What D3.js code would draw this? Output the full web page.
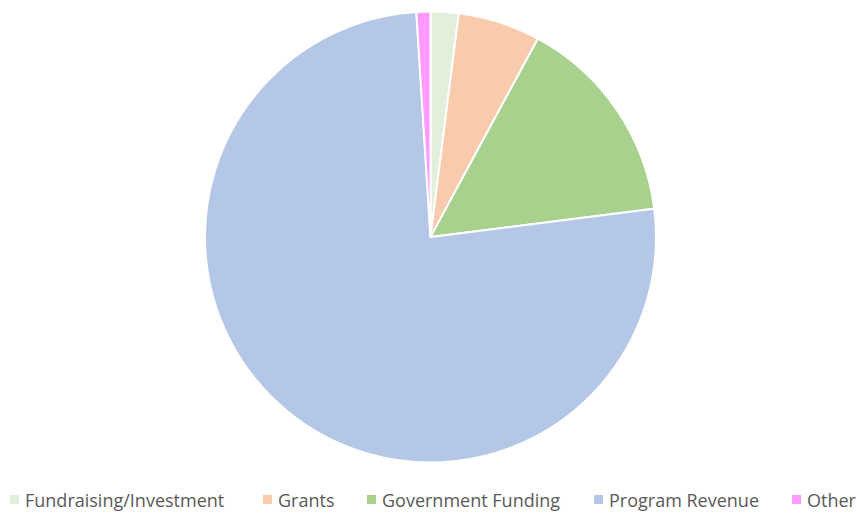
<!DOCTYPE html>
<html><head><meta charset="utf-8">
<script src="https://cdn.jsdelivr.net/npm/d3@7"></script>
<style>body{margin:0;background:#fff}svg{display:block}</style>
</head><body>
<script>
const categories = ["Fundraising/Investment","Grants","Government Funding","Program Revenue","Other"];
const values = [2.0, 5.9, 15.1, 76.0, 1.0];
const colors = ["#e2efda","#f8cbad","#a9d18e","#b4c7e7","#ff99ff"];

const W = 857, H = 515;
const svg = d3.select("body").append("svg").attr("width", W).attr("height", H);
const cx = 430.5, cy = 237, r = 225.5;
const data = categories.map((c,i)=>({c, v: values[i], col: colors[i]}));
const pie = d3.pie().value(d=>d.v).sort(null);
const arc = d3.arc().innerRadius(0).outerRadius(r);
svg.append("g").attr("transform",`translate(${cx},${cy})`)
  .selectAll("path").data(pie(data)).join("path")
  .attr("d", arc).attr("fill", d=>d.data.col)
  .attr("stroke","#fff").attr("stroke-width",2);

const legX = [10, 263, 367, 594, 792];
const lg = svg.append("g");
data.forEach((d,i)=>{
  const g = lg.append("g").attr("transform",`translate(${legX[i]},500)`);
  g.append("rect").attr("x",0).attr("y",-5).attr("width",9).attr("height",9).attr("fill",d.col);
  g.append("text").attr("x",15).attr("y",0).attr("dominant-baseline","central")
    .attr("font-family","'Open Sans', sans-serif").attr("font-size",18).attr("fill","#595959")
    .text(d.c);
});
</script>
</body></html>
